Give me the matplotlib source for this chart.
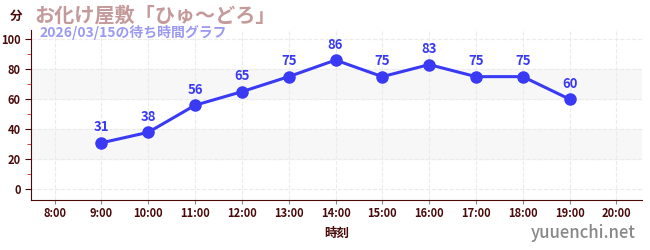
import matplotlib
matplotlib.use("Agg")
import matplotlib.pyplot as plt
from matplotlib.ticker import MultipleLocator

plt.rcParams['font.family'] = ['Noto Sans CJK JP', 'DejaVu Sans']

horas = [9, 10, 11, 12, 13, 14, 15, 16, 17, 18, 19]
espera = [31, 38, 56, 65, 75, 86, 75, 83, 75, 75, 60]
ticks_x = list(range(8, 21))
rotulos_x = [f"{h}:00" for h in ticks_x]

titulo = "お化け屋敷「ひゅ～どろ」"
subtitulo = "2026/03/15の待ち時間グラフ"
escuro = '#4a0a0a'
azul = '#3a3af5'

fig = plt.figure(figsize=(6.5, 2.5), dpi=100)
ax = fig.add_axes([0.048, 0.2, 0.94, 0.68])

# faixas cinzas
for y0 in (20, 60):
    ax.axhspan(y0, y0 + 20, color='#f7f7f7', zorder=0)

ax.plot(horas, espera, color=azul, lw=2.2, marker='o', ms=8, zorder=3)
for h, v in zip(horas, espera):
    ax.annotate(str(v), (h, v), xytext=(0, 6), textcoords='offset points',
                ha='center', va='bottom', color=azul, fontsize=9.5, fontweight='bold')

ax.set_xlim(7.5, 20.55)
ax.set_ylim(-7, 106)
ax.set_xticks(ticks_x)
ax.set_xticklabels(rotulos_x)
ax.set_yticks(range(0, 101, 20))
ax.yaxis.set_minor_locator(MultipleLocator(10))
ax.grid(True, which='major', color='#ebebeb', ls='--', lw=0.8)
ax.set_axisbelow(True)

for s in ('top', 'right'):
    ax.spines[s].set_visible(False)
for s in ('left', 'bottom'):
    ax.spines[s].set_color(escuro)
ax.tick_params(axis='y', which='major', colors=escuro, labelsize=8, length=4)
ax.tick_params(axis='x', which='major', colors='#888888', labelsize=8, length=3, pad=2)
ax.tick_params(axis='y', which='minor', colors='#cc2222', length=3)
for lb in ax.get_xticklabels() + ax.get_yticklabels():
    lb.set_color(escuro)
    lb.set_fontweight('bold')

ax.set_xlabel("時刻", color=escuro, fontsize=9, fontweight='bold', labelpad=5)

fig.text(0.025, 0.935, "分", color=escuro, fontsize=9, fontweight='bold', ha='center', va='center')
fig.text(0.053, 0.94, titulo, color='#c49a9a', fontsize=14.5, fontweight='bold', va='center')
fig.text(0.061, 0.87, subtitulo, color='#9a9af0', fontsize=10, fontweight='bold', va='center')
fig.text(0.978, 0.068, "yuuenchi.net", color='#888888', fontsize=12, fontweight='medium',
         ha='right', va='center')

fig.savefig("out.png", dpi=100)
